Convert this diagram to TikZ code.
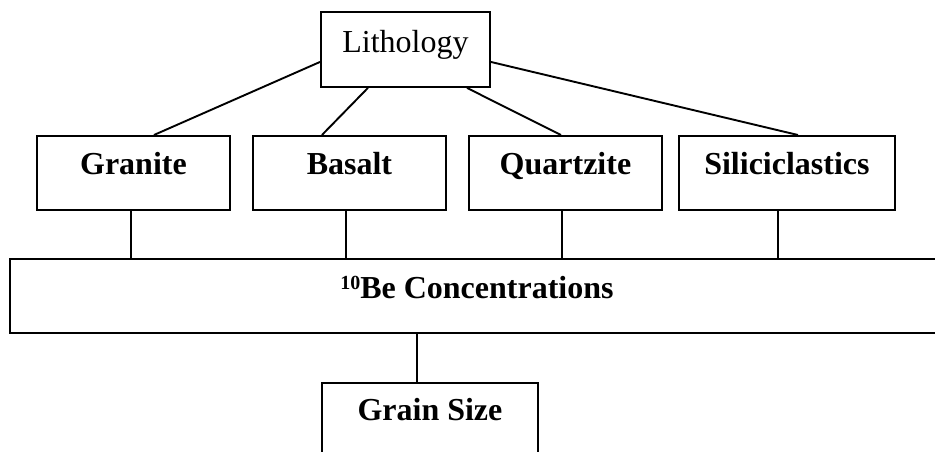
\documentclass[tikz,border=0pt]{standalone}
\usepackage{fontspec}
\setmainfont{Liberation Serif}
\begin{document}
\begin{tikzpicture}[x=1pt,y=-1pt,
  box/.style={draw,line width=1.9pt,inner sep=0pt,align=center,font=\fontsize{32}{38}\selectfont},
  bbox/.style={box,font=\fontsize{32}{38}\selectfont\bfseries},
  conn/.style={line width=1.9pt}]
\useasboundingbox (0,0) rectangle (935,452);
\node[box,minimum width=169pt,text height=41pt,text depth=34pt,anchor=north west] (litho) at (320,11) {Lithology};
\node[bbox,minimum width=193pt,text height=39pt,text depth=35pt,anchor=north west] (granite) at (36,135) {Granite};
\node[bbox,minimum width=193pt,text height=39pt,text depth=35pt,anchor=north west] (basalt) at (252,135) {Basalt};
\node[bbox,minimum width=193pt,text height=39pt,text depth=35pt,anchor=north west] (quartz) at (468,135) {Quartzite};
\node[bbox,minimum width=216pt,text height=39pt,text depth=35pt,anchor=north west] (sili) at (678,135) {Siliciclastics};
\node[bbox,minimum width=934pt,text height=40pt,text depth=34pt,anchor=north west] (be) at (9,258) {\raisebox{9pt}{\fontsize{20}{24}\selectfont 10}Be Concentrations};
\node[bbox,minimum width=216pt,text height=38pt,text depth=80pt,anchor=north west] (grain) at (321,382) {Grain Size};
\draw[conn] ([yshift=-12.5pt]litho.west) -- ([xshift=20.5pt]granite.north);
\draw[conn] ([xshift=-37.5pt]litho.south) -- ([xshift=-27.5pt]basalt.north);
\draw[conn] ([xshift=61.5pt]litho.south) -- ([xshift=-4.5pt]quartz.north);
\draw[conn] ([yshift=-12.5pt]litho.east) -- ([xshift=11pt]sili.north);
\draw[conn] ([xshift=-2.5pt]granite.south) -- ([xshift=-2.5pt]granite.south |- be.north);
\draw[conn] ([xshift=-3.5pt]basalt.south) -- ([xshift=-3.5pt]basalt.south |- be.north);
\draw[conn] ([xshift=-3.5pt]quartz.south) -- ([xshift=-3.5pt]quartz.south |- be.north);
\draw[conn] ([xshift=-9pt]sili.south) -- ([xshift=-9pt]sili.south |- be.north);
\draw[conn] (grain.north -| 417,0) -- (be.south -| 417,0);
\end{tikzpicture}
\end{document}
